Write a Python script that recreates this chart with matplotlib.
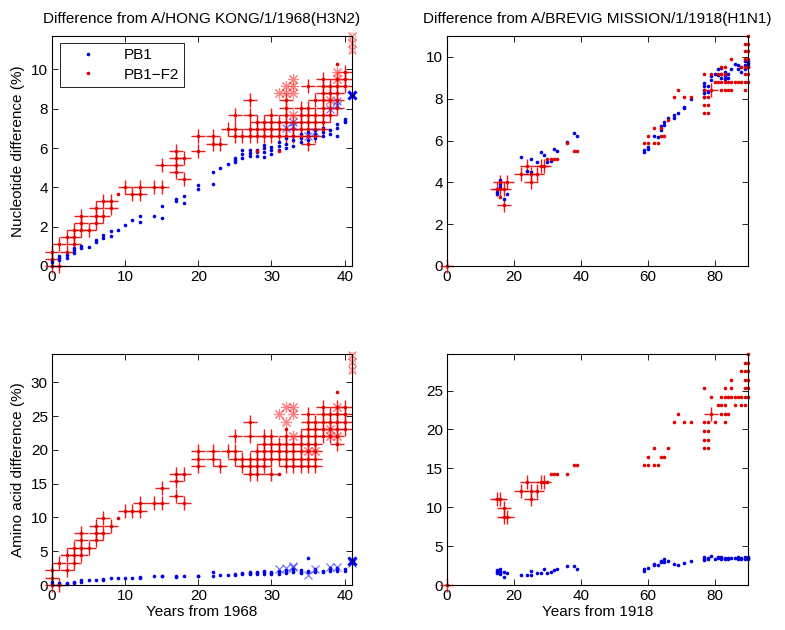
import numpy as np
import matplotlib.pyplot as plt

plt.rcParams["font.family"] = ["Liberation Sans", "DejaVu Sans"]
plt.rcParams["font.size"] = 11

# ---- A/HONG KONG/1/1968 (H3N2), nucleotide difference (%) ----
hk_nt_pb1 = [
    (0, [0.0, 0.2, 0.3]), (1, [0.3, 0.4, 0.5]), (2, [0.4, 0.55]),
    (3, [0.65, 0.8, 0.9]), (4, [0.9, 1.0]), (5, [0.95]), (6, [1.2, 1.3]),
    (7, [1.4, 1.6]), (8, [1.5, 1.8]), (9, [1.85]), (10, [2.1]), (11, [2.35]),
    (12, [2.25, 2.55]), (14, [2.55]), (15, [2.45, 3.05]), (17, [3.3, 3.4]),
    (18, [3.2, 3.55]), (20, [3.9, 4.1]), (22, [4.15, 4.8]), (23, [5.0]),
    (24, [5.2]), (25, [5.3, 5.4, 5.5]), (26, [5.5, 5.7, 5.9]),
    (27, [5.6, 5.75, 5.9]), (28, [5.6, 5.8, 5.9]), (29, [5.55, 5.8, 6.0, 6.15]),
    (30, [5.7, 5.9, 6.05]), (31, [5.9, 6.1, 6.3]), (32, [6.0, 6.2, 6.5]),
    (33, [6.1, 6.4, 6.6]), (34, [6.3, 6.5, 6.7]), (35, [6.4, 6.6, 6.8]),
    (36, [6.5, 6.7, 6.9]), (37, [6.6, 6.8, 7.0]), (38, [6.7, 6.9]),
    (39, [6.6, 7.0, 7.2]), (40, [7.3, 7.4, 7.5]),
]
hk_nt_pb1_x = [(32, [7.0]), (33, [7.1, 7.3]), (35, [6.6]), (36, [6.8]),
               (38, [8.0]), (39, [8.2, 8.4]), (41, [8.7])]
hk_nt_f2_cross = [
    (0, [0.0, 0.37, 0.73]), (1, [0.0, 1.10]), (2, [0.73, 1.47]),
    (3, [1.10, 1.47, 1.83]), (4, [1.83, 2.20, 2.56]), (5, [1.83]),
    (6, [2.20, 2.56, 2.93]), (7, [2.56, 3.30]), (8, [2.93, 3.30]),
    (10, [4.03]), (11, [3.66]), (12, [3.66, 4.03]), (14, [4.03]),
    (15, [4.03, 5.13]), (17, [4.76, 5.13, 5.49, 5.86]), (18, [4.40, 5.49]),
    (20, [5.86, 6.59]), (22, [6.23, 6.59]), (23, [6.23]), (24, [6.96]),
    (25, [6.59, 6.96, 7.69]), (26, [6.59]), (27, [6.59, 6.96, 7.69, 8.42]),
    (28, [6.59, 6.96, 7.33]), (29, [6.59, 6.96, 7.33]),
    (30, [6.59, 6.96, 7.33, 7.69]), (31, [6.59, 6.96, 7.33]),
    (32, [6.59, 6.96, 7.33, 7.69, 8.06, 8.42]), (33, [6.59, 6.96, 7.33]),
    (34, [6.59, 6.96, 7.33, 7.69, 8.06]),
    (35, [6.23, 6.59, 6.96, 7.33, 7.69, 8.06, 9.16]),
    (36, [6.59, 6.96, 7.33, 7.69, 8.42]),
    (37, [6.96, 7.33, 7.69, 8.06, 8.42, 8.79, 9.16, 9.52]),
    (38, [7.69, 8.06, 8.42, 8.79, 9.16]), (39, [8.06, 8.42, 8.79, 9.16, 9.52]),
    (40, [9.16, 9.52, 9.89]),
]
hk_nt_f2_dot = [(9, [3.66]), (28, [5.86]), (31, [5.86]), (39, [10.26])]
hk_nt_f2_star = [(31, [8.79]), (32, [8.79, 9.16]), (33, [7.69, 8.79, 9.16, 9.52]),
                 (38, [8.42]), (39, [9.52, 9.89])]
hk_nt_f2_x = [(41, [10.99, 11.36, 11.72])]

# ---- A/BREVIG MISSION/1/1918 (H1N1), nucleotide difference (%) ----
bm_nt_pb1 = [
    (15, [3.45, 3.55]), (16, [3.8, 3.9, 4.1]), (17, [3.2]), (18, [3.45]),
    (22, [5.2]), (24, [4.55]), (25, [4.5, 5.1]), (27, [4.95]), (28, [5.45]),
    (29, [5.3]), (30, [4.95]), (31, [5.0]), (32, [5.6]), (33, [5.5]),
    (36, [5.95]), (38, [6.35]), (39, [6.2]), (59, [5.45, 5.55]),
    (60, [5.6, 5.7]), (62, [6.2]), (63, [6.15]), (64, [6.5, 6.7]),
    (65, [6.75, 6.9]), (66, [7.1]), (68, [7.1, 7.2]), (69, [7.3]),
    (71, [7.55, 7.6]), (73, [8.0]), (77, [8.1, 8.25, 8.4, 8.6, 8.75]),
    (78, [8.3, 8.6]), (79, [8.9, 9.1]), (80, [9.2]), (81, [9.15, 9.4]),
    (82, [9.0, 9.2, 9.45]), (83, [8.95, 9.1, 9.3]), (84, [9.0, 9.2]),
    (85, [9.4]), (86, [9.65]), (87, [9.4, 9.6]), (88, [9.3, 9.5]),
    (89, [9.4, 9.6, 9.8]), (90, [9.5, 9.6, 9.7, 9.8]),
]
bm_nt_f2_cross = [
    (0, [0.0]), (15, [3.66]), (16, [3.66, 4.03]), (17, [2.93, 3.66]),
    (18, [4.03]), (22, [4.40]), (24, [4.76]), (25, [4.03, 4.40]), (27, [4.40]),
    (28, [4.76]), (29, [4.76]), (79, [8.42]),
]
bm_nt_f2_dot = [
    (16, [3.30]), (30, [5.13]), (31, [5.13]), (32, [5.13]), (33, [5.13]),
    (36, [5.86]), (38, [5.49]), (39, [5.49]), (59, [5.86]), (60, [5.86, 6.23]),
    (62, [5.86, 6.59]), (63, [5.86]), (64, [6.23, 6.59]), (65, [6.23]),
    (66, [6.96]), (68, [8.06]), (69, [8.42]), (71, [8.06]), (73, [8.06]),
    (77, [7.33, 7.69, 8.06, 8.42, 9.16]), (78, [7.33, 7.69, 8.06]),
    (79, [9.16]), (80, [8.79]), (81, [8.79, 9.16]), (82, [8.42, 8.79, 9.16, 9.52]),
    (83, [8.42, 8.79, 9.16, 9.52]), (84, [8.42, 8.79]), (85, [8.42, 8.79, 9.89]),
    (86, [8.79]), (87, [8.79]), (88, [8.79, 9.52]),
    (89, [8.42, 8.79, 9.16, 9.52, 9.89, 10.26, 10.62]),
    (90, [8.79, 9.16, 9.52, 9.89, 10.26, 10.62, 10.99]),
]

# ---- A/HONG KONG/1/1968 (H3N2), amino acid difference (%) ----
hk_aa_pb1 = [
    (0, [0.0, 0.2, 0.4]), (1, [0.1, 0.3]), (2, [0.2, 0.3]), (3, [0.3, 0.5]),
    (4, [0.5, 0.7]), (5, [0.7]), (6, [0.8]), (7, [0.8, 0.9]), (8, [1.0]),
    (9, [1.0]), (10, [1.0]), (11, [1.1]), (12, [1.1, 1.2]), (14, [1.4]),
    (15, [1.3, 1.4]), (17, [1.2, 1.4]), (18, [1.4]), (20, [1.3, 1.4]),
    (22, [1.4, 1.9]), (23, [1.5]), (24, [1.5]), (25, [1.5, 1.7]),
    (26, [1.6, 1.8]), (27, [1.6, 1.8, 1.9]), (28, [1.7, 1.8, 2.0]),
    (29, [1.7, 1.9, 2.1]), (30, [1.6, 1.8, 2.0]), (31, [1.7, 1.9, 2.1]),
    (32, [1.8, 2.0, 2.2]), (33, [1.9, 2.1, 2.3]), (34, [1.8, 2.0, 2.2]),
    (35, [1.9, 2.1, 4.0]), (36, [1.9, 2.1, 2.3]), (37, [1.9, 2.1]),
    (38, [2.1, 2.3, 2.5]), (39, [2.1, 2.3, 2.5]), (40, [2.1, 2.3]),
]
hk_aa_pb1_x = [(31, [2.3]), (32, [2.5]), (33, [2.6, 2.8]), (35, [1.5]),
               (36, [2.3]), (38, [2.7]), (39, [2.6]), (41, [3.3, 3.5])]
hk_aa_f2_cross = [
    (0, [0.0, 1.1, 2.2]), (1, [0.0, 3.3]), (2, [2.2, 4.4]), (3, [3.3, 4.4, 5.5]),
    (4, [4.4, 5.5, 6.6, 7.7]), (5, [5.5]), (6, [6.6, 7.7, 8.8]), (7, [7.7, 9.9]),
    (8, [8.8]), (10, [11.0]), (11, [11.0]), (12, [11.0, 12.1]), (14, [12.1]),
    (15, [12.1, 14.3]), (17, [13.2, 15.4, 16.5]), (18, [12.1, 16.5]),
    (20, [17.6, 18.7, 19.8]), (22, [18.7, 19.8]), (23, [17.6]), (24, [19.8]),
    (25, [18.7, 19.8, 22.0]), (26, [17.6, 18.7]),
    (27, [16.5, 17.6, 18.7, 22.0, 24.2]), (28, [16.5, 17.6, 18.7, 19.8]),
    (29, [17.6, 18.7, 19.8, 20.9, 22.0]), (30, [16.5, 18.7, 19.8, 20.9, 22.0]),
    (31, [18.7, 19.8, 20.9]), (32, [17.6, 18.7, 19.8, 20.9, 22.0]),
    (33, [17.6, 18.7, 19.8, 20.9]), (34, [17.6, 18.7, 19.8, 20.9, 22.0]),
    (35, [17.6, 18.7, 19.8, 20.9, 22.0, 23.1, 24.2, 25.3]),
    (36, [17.6, 18.7, 19.8, 20.9, 22.0, 23.1, 24.2]),
    (37, [22.0, 23.1, 24.2, 25.3, 26.4]), (38, [22.0, 23.1, 24.2, 25.3]),
    (39, [20.9, 22.0, 23.1, 24.2, 25.3, 26.4]), (40, [23.1, 24.2, 25.3, 26.4]),
]
hk_aa_f2_dot = [(9, [9.9]), (31, [16.5]), (32, [23.1]), (39, [28.6])]
hk_aa_f2_star = [(31, [25.3]), (32, [24.2, 26.4]), (33, [22.0, 25.3, 26.4]),
                 (35, [19.8]), (36, [19.8]), (38, [22.0, 23.1]), (39, [22.0, 26.4])]
hk_aa_f2_x = [(41, [31.9, 33.0, 34.1])]

# ---- A/BREVIG MISSION/1/1918 (H1N1), amino acid difference (%) ----
bm_aa_pb1 = [
    (15, [1.5, 1.7, 1.9]), (16, [1.4, 1.6, 1.8, 2.0]), (17, [1.0, 1.7]),
    (18, [1.6]), (22, [1.3]), (24, [1.3]), (25, [1.3, 1.8]), (27, [1.6]),
    (28, [1.6]), (29, [2.0]), (30, [1.6]), (31, [1.7]), (32, [1.9]), (33, [2.0]),
    (36, [2.4]), (38, [2.4]), (39, [2.1]), (59, [1.8, 2.0]), (60, [2.2]),
    (62, [2.6, 2.7]), (63, [2.6]), (64, [2.9, 3.1]), (65, [3.0, 3.3]),
    (66, [3.1]), (68, [2.7]), (69, [2.6]), (71, [2.8]), (73, [3.1]),
    (77, [3.2, 3.4, 3.6]), (78, [3.3, 3.5]), (79, [3.7]), (80, [3.3]),
    (81, [3.5, 3.6]), (82, [3.3, 3.5, 3.6]), (83, [3.3, 3.5]), (84, [3.4, 3.5]),
    (85, [3.5]), (86, [3.5]), (87, [3.4, 3.6]), (88, [3.3, 3.5]),
    (89, [3.4, 3.6]), (90, [3.3, 3.5, 3.6]),
]
bm_aa_f2_cross = [
    (0, [0.0]), (15, [11.0]), (16, [11.0]), (17, [8.8, 9.9]), (18, [8.8]),
    (22, [12.1]), (24, [13.2]), (25, [11.0, 12.1]), (27, [12.1]), (28, [13.2]),
    (29, [13.2]), (79, [22.0]),
]
bm_aa_f2_dot = [
    (30, [13.2]), (31, [14.3]), (32, [14.3]), (33, [14.3]), (36, [14.3]),
    (38, [15.4]), (39, [15.4]), (59, [15.4]), (60, [15.4, 16.5]),
    (62, [15.4, 17.6]), (63, [15.4]), (64, [16.5]), (65, [16.5]), (66, [17.6]),
    (68, [20.9]), (69, [22.0]), (71, [20.9]), (73, [20.9]),
    (77, [17.6, 18.7, 19.8, 20.9, 25.3]), (78, [17.6, 18.7, 19.8, 20.9]),
    (79, [24.2]), (80, [20.9]), (81, [23.1]), (82, [22.0, 23.1, 24.2]),
    (83, [20.9, 22.0, 23.1, 24.2, 25.3]), (84, [22.0, 24.2]),
    (85, [24.2, 25.3, 26.4]), (86, [23.1, 24.2]), (87, [24.2]),
    (88, [23.1, 24.2, 27.5]), (89, [23.1, 24.2, 25.3, 26.4, 27.5, 28.6]),
    (90, [24.2, 25.3, 26.4, 27.5, 28.6, 29.7]),
]


def expand(groups):
    xs, ys = [], []
    for yr, vals in groups:
        xs += [yr] * len(vals)
        ys += list(vals)
    return np.array(xs, dtype=float), np.array(ys, dtype=float)


def draw_panel(ax, pb1, f2_cross, f2_dot, pb1_x=None, f2_star=None, f2_x=None):
    kw = dict(linestyle="none", clip_on=False)
    x, y = expand(f2_cross)
    ax.plot(x, y, marker="+", color="#ff6060", alpha=0.3, ms=10, mew=2.2, **kw)
    ax.plot(x, y, marker="+", color="#d80000", ms=9.5, mew=0.6, **kw)
    if f2_star:
        x, y = expand(f2_star)
        ax.plot(x, y, marker=(8, 2, 0), color="#ff3030", alpha=0.6, ms=8, mew=0.8, **kw)
    if f2_x:
        x, y = expand(f2_x)
        ax.plot(x, y, marker="x", color="#ff3030", alpha=0.7, ms=6, mew=0.8, **kw)
        ax.plot(x, y, marker="o", mfc="none", color="#ff6060", alpha=0.5, ms=4.5, mew=0.7, **kw)
    x, y = expand(pb1)
    ax.plot(x, y, marker="o", color="#0000e0", ms=2.6, mew=0, **kw)
    if pb1_x:
        x, y = expand(pb1_x)
        ax.plot(x, y, marker="x", color="#2020ff", alpha=0.6, ms=5.5, mew=0.9, **kw)
        ax.plot(x[-1:], y[-1:], marker="x", color="#0000ff", ms=5.5, mew=2.2, **kw)
    x, y = expand(f2_cross)
    ax.plot(x, y, marker="o", color="#e00000", ms=2.6, mew=0, **kw)
    x, y = expand(f2_dot)
    ax.plot(x, y, marker="o", color="#e00000", ms=2.6, mew=0, **kw)


def style(ax):
    ax.tick_params(direction="in", top=True, right=True, length=4, width=0.6,
                   labelsize=11, pad=3)
    for sp in ax.spines.values():
        sp.set_linewidth(0.8)


fig = plt.figure(figsize=(7.85, 6.3), dpi=100)
ax1 = fig.add_axes([0.0662, 0.5778, 0.3822, 0.3651])
ax2 = fig.add_axes([0.5694, 0.5778, 0.3834, 0.3651])
ax3 = fig.add_axes([0.0662, 0.0714, 0.3822, 0.3667])
ax4 = fig.add_axes([0.5694, 0.0714, 0.3834, 0.3667])

draw_panel(ax1, hk_nt_pb1, hk_nt_f2_cross, hk_nt_f2_dot, hk_nt_pb1_x, hk_nt_f2_star, hk_nt_f2_x)
draw_panel(ax2, bm_nt_pb1, bm_nt_f2_cross, bm_nt_f2_dot)
draw_panel(ax3, hk_aa_pb1, hk_aa_f2_cross, hk_aa_f2_dot, hk_aa_pb1_x, hk_aa_f2_star, hk_aa_f2_x)
draw_panel(ax4, bm_aa_pb1, bm_aa_f2_cross, bm_aa_f2_dot)

ax1.set_xlim(0, 41)
ax1.set_ylim(0, 11.7)
ax1.set_xticks([0, 10, 20, 30, 40])
ax1.set_yticks([0, 2, 4, 6, 8, 10])
ax1.set_title("Difference from A/HONG KONG/1/1968(H3N2)", fontsize=11, pad=9)
ax1.set_ylabel("Nucleotide difference (%)", fontsize=11, labelpad=4)

ax2.set_xlim(0, 90)
ax2.set_ylim(0, 11)
ax2.set_xticks([0, 20, 40, 60, 80])
ax2.set_yticks([0, 2, 4, 6, 8, 10])
ax2.set_title("Difference from A/BREVIG MISSION/1/1918(H1N1)", fontsize=11, pad=9)

ax3.set_xlim(0, 41)
ax3.set_ylim(0, 34.2)
ax3.set_xticks([0, 10, 20, 30, 40])
ax3.set_yticks([0, 5, 10, 15, 20, 25, 30])
ax3.set_ylabel("Amino acid difference (%)", fontsize=11, labelpad=4)
ax3.set_xlabel("Years from 1968", fontsize=11, labelpad=1)

ax4.set_xlim(0, 90)
ax4.set_ylim(0, 29.7)
ax4.set_xticks([0, 20, 40, 60, 80])
ax4.set_yticks([0, 5, 10, 15, 20, 25])
ax4.set_xlabel("Years from 1918", fontsize=11, labelpad=1)

for ax in (ax1, ax2, ax3, ax4):
    style(ax)

h1, = ax1.plot([], [], marker="o", ls="none", color="#0000e0", ms=2.6, mew=0)
h2, = ax1.plot([], [], marker="o", ls="none", color="#e00000", ms=2.6, mew=0)
leg = ax1.legend([h1, h2], ["PB1", "PB1\u2212F2"], loc="upper left",
                 bbox_to_anchor=(0.027, 0.97), fontsize=11, frameon=True,
                 fancybox=False, edgecolor="black", framealpha=1,
                 handlelength=3.0, handletextpad=0.8, borderpad=0.35,
                 labelspacing=0.35, borderaxespad=0)
leg.get_frame().set_linewidth(0.6)

fig.savefig("out.png", dpi=100)
